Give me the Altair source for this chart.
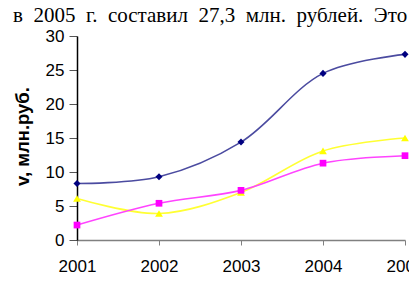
import altair as alt
import pandas as pd

years = ["2001", "2002", "2003", "2004", "2005"]
total = [8.3, 9.3, 14.4, 24.5, 27.3]
yellow_vals = [6.1, 3.9, 7.0, 13.1, 15.0]
magenta_vals = [2.2, 5.4, 7.3, 11.3, 12.4]
series_names = ["V", "A", "B"]
line_colors = ["#4b4ba0", "#ffff33", "#ff44ff"]
point_colors = ["#000080", "#ffff00", "#ff00ff"]
shapes = ["diamond", "triangle-up", "square"]
sizes = [50, 60, 45]

heading_words = ["в", "2005", "г.", "составил", "27,3", "млн.", "рублей.", "Это"]
heading = "\u2002".join(heading_words)  # justified text: wider word spacing

rows = []
for name, vals, lc, pc, sh, sz in zip(series_names, [total, yellow_vals, magenta_vals],
                                      line_colors, point_colors, shapes, sizes):
    for yr, v in zip(years, vals):
        rows.append({"year": yr, "v": v, "series": name, "lc": lc, "pc": pc, "shape": sh, "size": sz})
df = pd.DataFrame(rows)

x = alt.X("year:O", scale=alt.Scale(type="point", padding=0), sort=years,
          axis=alt.Axis(title=None, labelAngle=0, labelFont="Liberation Sans", labelFontSize=17,
                        labelColor="#000", domainColor="#808080", tickColor="#808080",
                        tickSize=5, labelPadding=13, labelOverlap=False, labelFlush=False,
                        domainWidth=1.5))
y = alt.Y("v:Q", scale=alt.Scale(domain=[0, 30], nice=False),
          axis=alt.Axis(values=[0, 5, 10, 15, 20, 25, 30], title="v, млн.руб.", grid=False,
                        labelFont="Liberation Sans", labelFontSize=17, labelColor="#000",
                        domainColor="#000", tickColor="#555", tickSize=8, labelPadding=5,
                        titleFont="Liberation Sans", titleFontSize=18.5, titleFontWeight="bold",
                        titleColor="#000", titleAngle=270, titleX=-49, titleY=100,
                        titleAlign="center", titleBaseline="alphabetic", domainWidth=1.5))

base = alt.Chart(df)
lines = base.mark_line(interpolate="catmull-rom", strokeWidth=1.6).encode(
    x=x, y=y, detail="series:N", color=alt.Color("lc:N", scale=None))
points = base.mark_point(filled=True, opacity=1).encode(
    x=x, y=y, color=alt.Color("pc:N", scale=None), shape=alt.Shape("shape:N", scale=None),
    size=alt.Size("size:Q", scale=None))
label = base.transform_filter("datum.series == 'V' && datum.year == '2005'").mark_text(
    dx=7, align="left", baseline="middle", font="Liberation Sans", fontSize=15,
    fontWeight="bold", color="#000").encode(x=x, y=y, text="series:N")

chart = alt.layer(lines, points, label).properties(
    width=328, height=204,
    padding={"left": 69, "top": 28, "right": 4, "bottom": 35},
    autosize=alt.AutoSizeParams(type="none"),
    title=alt.TitleParams(heading, anchor="start", frame="group",
                          font="Liberation Serif", fontSize=21, fontWeight="normal", color="#000",
                          dx=-64, dy=7, offset=8),
).configure_view(stroke=None)

chart.save("out.html", embed_options={"renderer": "svg", "actions": False})
